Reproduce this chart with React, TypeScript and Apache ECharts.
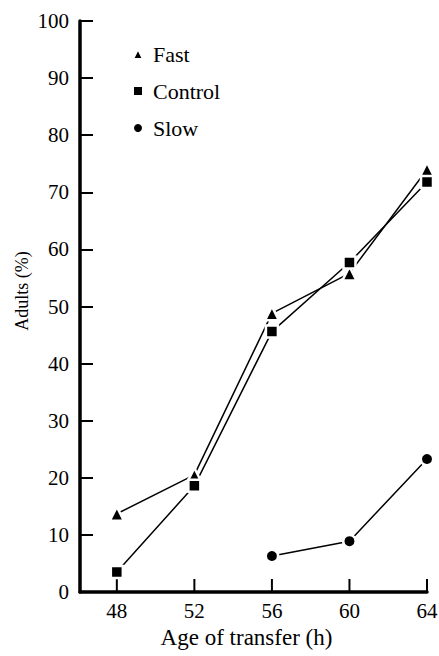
import React, { useEffect, useRef } from "react";
import * as echarts from "echarts";

const hours = [48, 52, 56, 60, 64];
const fast = [13.7, 20.5, 48.8, 55.8, 74.0];
const control = [3.5, 18.6, 45.6, 57.7, 71.8];
const slowHours = [56, 60, 64];
const slow = [6.3, 8.9, 23.3];

const FONT = "Liberation Serif";

export default function App() {
  const ref = useRef<HTMLDivElement>(null);
  useEffect(() => {
    if (!ref.current) return;
    const chart = echarts.init(ref.current, null, { renderer: "svg" });
    const marker = (symbol: string, size: number) => ({
      type: "line",
      symbol,
      symbolSize: size,
      lineStyle: { color: "#000", width: 1.5 },
      itemStyle: { color: "#000", borderColor: "#fff", borderWidth: 2.5 },
      z: 3,
    });
    chart.setOption({
      animation: false,
      backgroundColor: "#fff",
      grid: { left: 80, right: 12, top: 21, bottom: 64, containLabel: false, outerBoundsMode: "none" },
      legend: {
        orient: "vertical",
        left: 127,
        top: 38,
        itemWidth: 10,
        itemHeight: 10,
        itemGap: 15,
        textStyle: { fontFamily: FONT, fontSize: 22, color: "#000", lineHeight: 22, padding: [0, 0, 0, 5] },
        data: [
          { name: "Fast", icon: "triangle" },
          { name: "Control", icon: "rect" },
          { name: "Slow", icon: "circle" },
        ],
      },
      xAxis: {
        type: "value",
        min: 46.1,
        max: 64,
        splitLine: { show: false },
        axisLine: { show: true, onZero: false, lineStyle: { color: "#000", width: 3.5 } },
        axisTick: { show: false },
        axisLabel: { customValues: hours, fontFamily: FONT, fontSize: 21, color: "#000", margin: 8 },
        name: "Age of transfer (h)",
        nameLocation: "middle",
        nameGap: 32,
        nameTextStyle: { fontFamily: FONT, fontSize: 23, color: "#000", padding: [0, 14, 0, 0] },
      },
      yAxis: {
        type: "value",
        min: 0,
        max: 100,
        interval: 10,
        splitLine: { show: false },
        axisLine: { show: true, lineStyle: { color: "#000", width: 3.5 } },
        axisTick: { show: true, inside: true, length: 13, lineStyle: { color: "#000", width: 2 } },
        axisLabel: { fontFamily: FONT, fontSize: 21, color: "#000", margin: 11 },
      },
      graphic: [
        {
          type: "text",
          x: 22,
          y: 291,
          rotation: Math.PI / 2,
          style: {
            text: "Adults (%)",
            fontFamily: FONT,
            fontSize: 18,
            fill: "#000",
            align: "center",
            verticalAlign: "middle",
          },
        },
      ],
      series: [
        {
          type: "custom",
          name: "xticks",
          silent: true,
          data: hours.map((h) => [h, 0]),
          renderItem: (params: any, api: any) => {
            const p = api.coord([api.value(0), 0]);
            return {
              type: "line",
              shape: { x1: p[0], y1: p[1], x2: p[0], y2: p[1] - 13 },
              style: { stroke: "#000", lineWidth: 2 },
            };
          },
          z: 1,
        },
        { ...marker("triangle", 14), name: "Fast", data: hours.map((h, i) => [h, fast[i]]) },
        { ...marker("rect", 12), name: "Control", data: hours.map((h, i) => [h, control[i]]) },
        { ...marker("circle", 12.5), name: "Slow", data: slowHours.map((h, i) => [h, slow[i]]) },
      ],
    });
    return () => chart.dispose();
  }, []);
  return (
    <div
      ref={ref}
      style={{ position: "fixed", left: 0, top: 0, width: 439, height: 656, background: "#fff" }}
    />
  );
}
